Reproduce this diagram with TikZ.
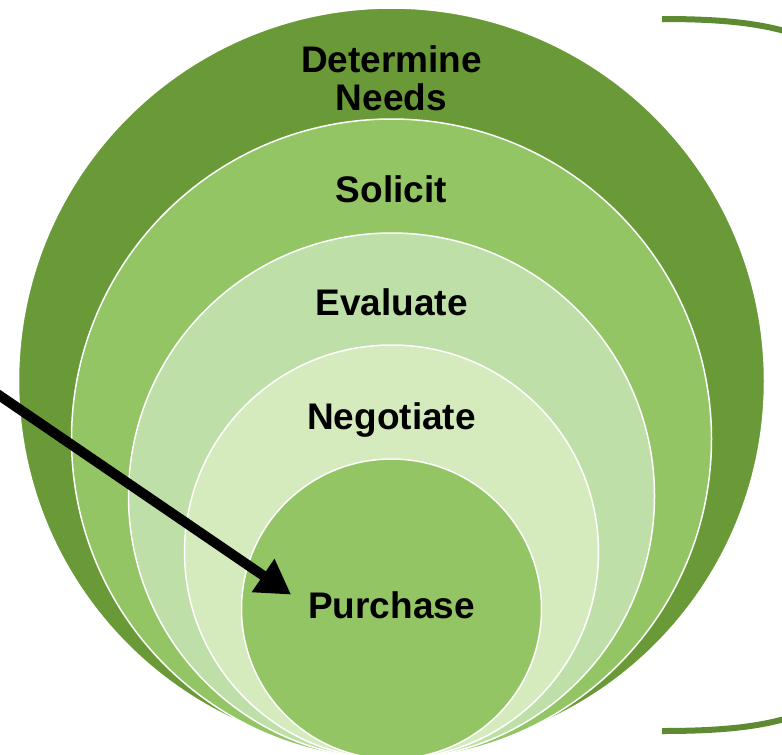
\documentclass[tikz,border=0pt]{standalone}
\usepackage{fontspec}
\setsansfont{Liberation Sans}
\usetikzlibrary{arrows.meta}
\definecolor{darkleaf}{HTML}{6A9A37}
\definecolor{midleaf}{HTML}{93C564}
\definecolor{paleleaf}{HTML}{BEDFA8}
\definecolor{lightleaf}{HTML}{D5EBBE}
\definecolor{bracketgreen}{HTML}{5E8A31}
\tikzset{
  ring/.style    = {draw=white, line width=1.5pt},
  stage/.style   = {font=\sffamily\bfseries\fontsize{37}{38}\selectfont,
                   align=center, inner sep=2pt},
  pointer/.style = {-{Triangle[length=34pt,width=38pt]}, line width=10pt,
                   shorten >=18pt},
  bracket/.style = {draw=bracketgreen, line width=6pt}
}
\begin{document}
\begin{tikzpicture}[x=1pt, y=-1pt]
\useasboundingbox (0,0) rectangle (782,755);
\clip (0,0) rectangle (782,755);

% nested stages, all touching at the bottom
\filldraw[ring, fill=darkleaf]  (391.5,381) circle[radius=373];
\filldraw[ring, fill=midleaf]   (391.5,439) circle[radius=320];
\filldraw[ring, fill=paleleaf]  (391.5,496) circle[radius=263];
\filldraw[ring, fill=lightleaf] (391.5,552) circle[radius=207];
\filldraw[ring, fill=midleaf]   (391.5,609) circle[radius=150];

% stage labels
\node[stage] (needs) at (391.5,78.5) {Determine\\Needs};
\node[stage, anchor=base] (solicit)   at (391.5,202) {Solicit};
\node[stage, anchor=base] (evaluate)  at (391.5,315) {Evaluate};
\node[stage, anchor=base] (negotiate) at (391.5,429) {Negotiate};
\node[stage, anchor=base] (purchase)  at (391.5,618) {Purchase};

% big bracket on the right
\draw[bracket] (662,19) .. controls (745,19) and (800,27) .. (840,58)
  -- (840,692) .. controls (800,723) and (745,731) .. (662,731);

% pointer into the last stage
\coordinate (tail) at (-10,389);
\draw[pointer] (tail) -- (purchase.west);

\end{tikzpicture}
\end{document}
